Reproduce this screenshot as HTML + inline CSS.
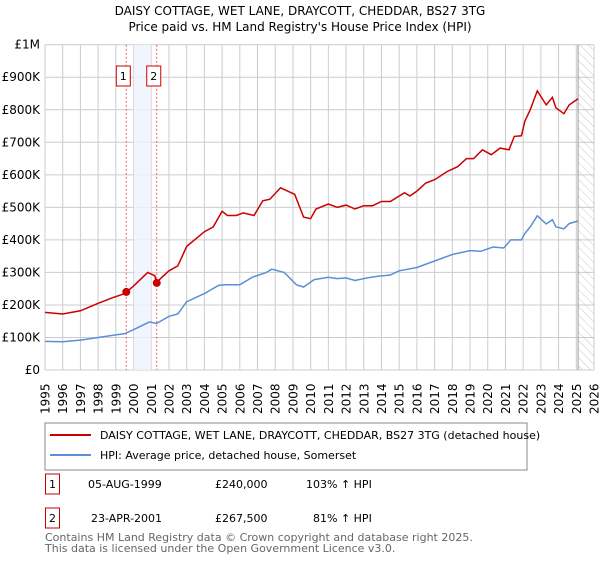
<!DOCTYPE html>
<html><head><meta charset="utf-8"><style>
body{margin:0;background:#fff;width:600px;height:560px;overflow:hidden;font-family:"DejaVu Sans","Liberation Sans",sans-serif}
svg text{font-family:"DejaVu Sans","Liberation Sans",sans-serif}
</style></head><body>
<svg id="c" width="600" height="560">
<defs><pattern id="hatch" width="6" height="6" patternUnits="userSpaceOnUse" patternTransform="rotate(-45)"><line x1="0" y1="0" x2="0" y2="6" stroke="#bbb" stroke-width="0.8"/></pattern></defs>
<text x="300" y="15" text-anchor="middle" font-size="12">DAISY COTTAGE, WET LANE, DRAYCOTT, CHEDDAR, BS27 3TG</text>
<text x="300" y="31" text-anchor="middle" font-size="12">Price paid vs. HM Land Registry's House Price Index (HPI)</text>
<g id="grid"></g><g id="marks"></g>
<rect x="45" y="423" width="482" height="47" fill="#fff" stroke="#888"/>
<line x1="50" y1="435" x2="91" y2="435" stroke="#cc0000" stroke-width="2"/>
<text x="100" y="439" font-size="11">DAISY COTTAGE, WET LANE, DRAYCOTT, CHEDDAR, BS27 3TG (detached house)</text>
<line x1="50" y1="455" x2="91" y2="455" stroke="#5b8fd6" stroke-width="2"/>
<text x="100" y="459" font-size="11">HPI: Average price, detached house, Somerset</text>
<g font-size="11">
<rect x="45.5" y="474" width="14" height="20" fill="none" stroke="#cc0000"/>
<text x="52.5" y="488" text-anchor="middle">1</text>
<text x="88" y="488">05-AUG-1999</text>
<text x="215" y="488">£240,000</text>
<text x="306" y="488">103% ↑ HPI</text>
<rect x="45.5" y="508" width="14" height="20" fill="none" stroke="#cc0000"/>
<text x="52.5" y="522" text-anchor="middle">2</text>
<text x="91" y="522">23-APR-2001</text>
<text x="215" y="522">£267,500</text>
<text x="313" y="522">81% ↑ HPI</text>
</g>
</svg>
<div style="position:absolute;left:45px;top:532px;font-size:11px;line-height:11px;color:#666">Contains HM Land Registry data © Crown copyright and database right 2025.<br>This data is licensed under the Open Government Licence v3.0.</div>
<script>
const yTicks=[0,100000,200000,300000,400000,500000,600000,700000,800000,900000,1000000];
const yLabels=["£0","£100K","£200K","£300K","£400K","£500K","£600K","£700K","£800K","£900K","£1M"];
const years=[1995,1996,1997,1998,1999,2000,2001,2002,2003,2004,2005,2006,2007,2008,2009,2010,2011,2012,2013,2014,2015,2016,2017,2018,2019,2020,2021,2022,2023,2024,2025,2026];
const hpiT=[1995,1996,1997,1998,1999,1999.5,2000,2000.9,2001.3,2002,2002.5,2003,2004,2004.8,2005.2,2006,2006.7,2007.5,2007.8,2008.5,2009.2,2009.6,2010.2,2011,2011.5,2012,2012.5,2013.2,2013.8,2014.5,2015,2016,2017,2018,2019,2019.6,2020.3,2020.9,2021.3,2021.9,2022.1,2022.4,2022.8,2023.3,2023.65,2023.85,2024.3,2024.6,2025.1];
const hpiV=[88,87,92,100,108,112,124,148,143,165,172,210,235,260,262,262,285,300,310,300,262,255,278,285,281,283,275,283,288,292,305,315,335,355,367,365,378,375,400,400,420,440,474,449,462,440,434,450,458];
const propT=[1995,1996,1997,1998,1998.8,1999.5,2000,2000.8,2001.2,2001.31,2001.5,2002,2002.5,2003,2004,2004.5,2005,2005.3,2005.8,2006.2,2006.8,2007.3,2007.7,2008.3,2008.7,2009.1,2009.6,2010,2010.3,2011,2011.5,2012,2012.5,2013,2013.5,2014,2014.5,2015.3,2015.6,2016,2016.5,2017,2017.7,2018.3,2018.8,2019.2,2019.7,2020.2,2020.7,2021.2,2021.5,2021.9,2022.1,2022.4,2022.8,2023.3,2023.65,2023.85,2024.3,2024.6,2025.1];
const propV=[177,172,182,205,222,235,258,300,290,267.5,280,305,320,380,425,440,488,475,475,483,475,520,525,560,550,540,470,465,495,510,500,507,495,505,505,518,518,545,535,550,575,585,610,625,650,650,677,662,682,677,718,720,765,800,858,815,838,806,788,815,834];
const saleT=[1999.59,2001.31];
const saleV=[240000,267500];
const saleIds=["1","2"];
const X=t=>45+(t-1995)*(549/31);
const Y=v=>370-v*(325.3/1000000);
const NS="http://www.w3.org/2000/svg";
function mk(p,tag,at){const e=document.createElementNS(NS,tag);for(const k in at)e.setAttribute(k,at[k]);p.appendChild(e);return e;}
const g=document.getElementById('grid'),m=document.getElementById('marks');
yTicks.forEach((v,i)=>{const l=mk(g,'line',{x1:45,x2:594,y1:Y(v),y2:Y(v),stroke:'#ccc'});


const t=mk(g,'text',{x:40,y:Y(v)+4,'text-anchor':'end','font-size':12});t.textContent=yLabels[i];

});
years.forEach(y=>{const l=mk(g,'line',{x1:X(y),x2:X(y),y1:Y(1000000),y2:370,stroke:'#ccc'});


const t=mk(g,'text',{x:0,y:0,'font-size':12,transform:`translate(${X(y)+4.5},414) rotate(-90)`});t.textContent=y;

});
const band=mk(m,'rect',{x:X(2000),y:Y(1000000),width:X(2001)-X(2000),height:370-Y(1000000),fill:'#eef2fc',opacity:0.8});


const hz=mk(m,'rect',{x:X(2025.1),y:Y(1000000),width:594-X(2025.1),height:370-Y(1000000),fill:'url(#hatch)'});


const hl=mk(m,'line',{x1:X(2025.1),x2:X(2025.1),y1:Y(1000000),y2:370,stroke:'#999'});


saleT.forEach((t,i)=>{const l=mk(m,'line',{x1:X(t),x2:X(t),y1:Y(1000000),y2:370,stroke:'#f06060','stroke-dasharray':'2,2'});


const r=mk(m,'rect',{x:X(t)-10,y:66,width:14,height:20,fill:'#fff',stroke:'#cc0000'});


const tx=mk(m,'text',{x:X(t)-3,y:80,'text-anchor':'middle','font-size':11});tx.textContent=saleIds[i];

});
function line(T,V,col,name){const d=T.map((t,i)=>(i?'L':'M')+X(t).toFixed(1)+','+Y(V[i]*1000).toFixed(1)).join('');
const p=mk(m,'path',{d:d,fill:'none',stroke:col,'stroke-width':1.5});

}
line(hpiT,hpiV,'#5b8fd6','hpi-line');
line(propT,propV,'#cc0000','property-line');
saleT.forEach((t,i)=>{const c=mk(m,'circle',{cx:X(t),cy:Y(saleV[i]),r:4,fill:'#cc0000'});

});
</script>
</body></html>
